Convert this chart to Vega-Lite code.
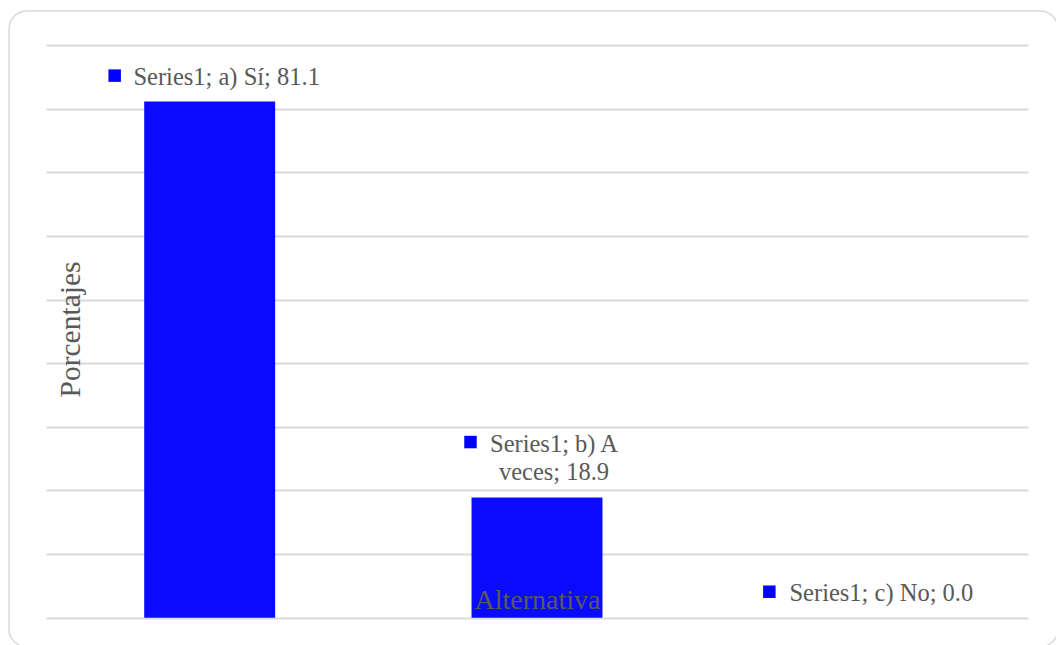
{
  "$schema": "https://vega.github.io/schema/vega-lite/v6.json",
  "width": 1049,
  "height": 636,
  "autosize": {"type": "none"},
  "padding": {"left": 9, "top": 11, "right": 0, "bottom": 0},
  "background": "#ffffff",
  "config": {
    "font": "Liberation Serif",
    "view": {"stroke": "#d9d9d9", "strokeWidth": 1.5, "cornerRadius": 18}
  },
  "data": {
    "values": [
      {"cat": "a) Sí", "value": 81.1, "label": "Series1; a) Sí; 81.1"},
      {"cat": "b) A veces", "value": 18.9, "label": "Series1; b) A\nveces; 18.9"},
      {"cat": "c) No", "value": 0.0, "label": "Series1; c) No; 0.0"}
    ]
  },
  "encoding": {
    "x": {
      "field": "cat",
      "type": "nominal",
      "sort": null,
      "scale": {"range": [37, 1019], "paddingInner": 0.6, "paddingOuter": 0.3},
      "axis": {
        "title": "Alternativa",
        "zindex": 2,
        "labels": false,
        "ticks": false,
        "domain": false,
        "grid": false,
        "titleFont": "Liberation Serif",
        "titleFontSize": 28,
        "titleFontWeight": "normal",
        "titleColor": "#595959",
        "titleX": 528,
        "titleY": -38.7,
        "titleAlign": "center",
        "titleBaseline": "alphabetic"
      }
    },
    "y": {
      "field": "value",
      "type": "quantitative",
      "scale": {"domain": [-4.6, 95.34], "nice": false, "zero": false},
      "axis": {
        "title": "Porcentajes",
        "values": [0, 10, 20, 30, 40, 50, 60, 70, 80, 90],
        "labels": false,
        "ticks": false,
        "domain": false,
        "grid": true,
        "gridColor": "#d9d9d9",
        "gridWidth": 2,
        "titleFont": "Liberation Serif",
        "titleFontSize": 29.5,
        "titleFontWeight": "normal",
        "titleColor": "#595959",
        "titleAngle": 270,
        "titleX": 70,
        "titleY": 318,
        "titleAlign": "center",
        "titleBaseline": "alphabetic"
      }
    }
  },
  "layer": [
    {
      "mark": {"type": "bar", "color": "#0a0aff"}
    },
    {
      "transform": [{"filter": "datum.cat !== 'b) A veces'"}],
      "mark": {
        "type": "text",
        "align": "center",
        "baseline": "bottom",
        "dx": 17,
        "dy": -11.5,
        "fontSize": 24.5,
        "color": "#595959"
      },
      "encoding": {"text": {"field": "label"}}
    },
    {
      "transform": [{"filter": "datum.cat === 'b) A veces'"}],
      "mark": {
        "type": "text",
        "align": "center",
        "baseline": "bottom",
        "dx": 17,
        "dy": -40,
        "fontSize": 24.5,
        "lineBreak": "\n",
        "lineHeight": 28,
        "color": "#595959"
      },
      "encoding": {"text": {"field": "label"}}
    },
    {
      "transform": [{"filter": "datum.cat !== 'b) A veces'"}],
      "mark": {
        "type": "point",
        "shape": "square",
        "filled": true,
        "opacity": 1,
        "size": 156,
        "color": "#0000ff",
        "strokeWidth": 0,
        "xOffset": -95,
        "yOffset": -26
      }
    },
    {
      "transform": [{"filter": "datum.cat === 'b) A veces'"}],
      "mark": {
        "type": "point",
        "shape": "square",
        "filled": true,
        "opacity": 1,
        "size": 156,
        "color": "#0000ff",
        "strokeWidth": 0,
        "xOffset": -66.5,
        "yOffset": -55.4
      }
    }
  ]
}
